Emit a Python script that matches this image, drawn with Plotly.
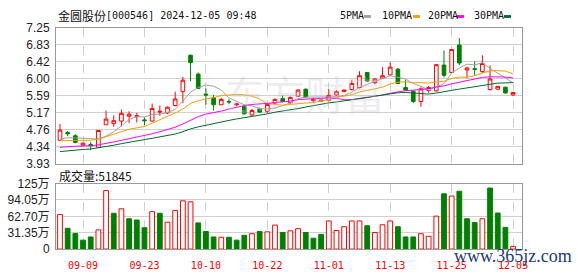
import plotly.graph_objects as go

# ---------------- data ----------------
dates = ["09-04", "09-05", "09-06", "09-09", "09-10", "09-11", "09-12", "09-13", "09-18", "09-19",
         "09-20", "09-23", "09-24", "09-25", "09-26", "09-27", "09-30", "10-08", "10-09", "10-10",
         "10-11", "10-14", "10-15", "10-16", "10-17", "10-18", "10-21", "10-22", "10-23", "10-24",
         "10-25", "10-28", "10-29", "10-30", "10-31", "11-01", "11-04", "11-05", "11-06", "11-07",
         "11-08", "11-11", "11-12", "11-13", "11-14", "11-15", "11-18", "11-19", "11-20", "11-21",
         "11-22", "11-25", "11-26", "11-27", "11-28", "11-29", "12-02", "12-03", "12-04", "12-05"]

opens = [4.50, 4.69, 4.61, 4.38, 4.40, 4.33, 4.88, 4.91, 4.97, 5.09,
         5.08, 5.00, 4.97, 5.19, 5.17, 5.35, 5.69, 6.58, 6.12, 5.63,
         5.54, 5.37, 5.45, 5.37, 5.33, 5.12, 5.27, 5.21, 5.41, 5.52,
         5.42, 5.58, 5.75, 5.47, 5.46, 5.48, 5.61, 5.69, 5.74, 5.79,
         6.16, 5.91, 6.02, 6.10, 6.24, 5.79, 5.70, 5.45, 5.72, 5.71,
         6.34, 6.16, 6.83, 6.22, 6.25, 6.18, 5.74, 5.75, 5.80, 5.61]
highs = [4.90, 4.73, 4.65, 4.45, 4.46, 4.75, 5.23, 5.11, 5.25, 5.21,
         5.17, 5.06, 5.40, 5.35, 5.33, 5.69, 6.05, 6.60, 6.16, 5.77,
         5.61, 5.54, 5.51, 5.42, 5.36, 5.27, 5.30, 5.40, 5.53, 5.60,
         5.57, 5.75, 5.77, 5.54, 5.53, 5.75, 5.73, 5.74, 5.98, 6.19,
         6.17, 6.02, 6.29, 6.41, 6.27, 5.98, 5.72, 5.80, 5.83, 6.36,
         6.70, 6.73, 7.00, 6.30, 6.43, 6.58, 6.33, 5.83, 5.81, 5.67]
lows = [4.50, 4.60, 4.43, 4.37, 4.26, 4.32, 4.88, 4.83, 4.84, 4.92,
        4.94, 4.87, 4.96, 5.10, 5.14, 5.33, 5.41, 5.95, 5.75, 5.37,
        5.23, 5.36, 5.38, 5.34, 5.13, 5.10, 5.17, 5.17, 5.38, 5.43,
        5.40, 5.56, 5.54, 5.41, 5.44, 5.45, 5.58, 5.68, 5.72, 5.77,
        5.93, 5.87, 6.00, 6.08, 5.88, 5.71, 5.41, 5.32, 5.66, 5.69,
        6.04, 6.14, 6.34, 6.02, 6.08, 6.15, 5.72, 5.73, 5.64, 5.58]
closes = [4.75, 4.66, 4.45, 4.43, 4.37, 4.74, 5.02, 4.98, 5.16, 5.14,
          5.10, 4.98, 5.28, 5.21, 5.31, 5.51, 5.97, 6.40, 5.77, 5.61,
          5.37, 5.50, 5.44, 5.39, 5.15, 5.23, 5.19, 5.38, 5.50, 5.45,
          5.55, 5.73, 5.56, 5.50, 5.48, 5.60, 5.69, 5.73, 5.89, 6.08,
          5.95, 6.00, 6.08, 6.29, 5.89, 5.73, 5.45, 5.76, 5.79, 6.35,
          6.09, 6.72, 6.39, 6.27, 6.24, 6.38, 6.00, 5.82, 5.66, 5.67]
volumes = [66.1, 39.7, 29.9, 17.1, 23.2, 36.7, 112.0, 68.5, 77.1, 58.0,
           55.6, 40.9, 71.6, 68.5, 51.4, 74.0, 92.4, 90.5, 50.1, 33.6,
           23.2, 22.6, 22.6, 17.1, 26.3, 29.4, 33.6, 33.0, 45.9, 31.8,
           34.9, 39.1, 31.8, 20.8, 28.1, 53.8, 35.4, 42.8, 53.8, 53.8,
           44.6, 31.8, 46.5, 53.8, 42.8, 23.2, 23.2, 29.4, 24.4, 63.0,
           105.8, 101.5, 110.7, 58.0, 50.7, 58.0, 116.8, 69.0, 41.5, 5.18]  # 万

# moving-average values at the start of the window (history before the visible range)
ma5_head = [4.54, 4.56, 4.56, 4.55]
ma10_head = [4.49, 4.50, 4.50, 4.50, 4.50, 4.53, 4.59, 4.64, 4.70]
ma20_head = [4.33, 4.35, 4.355, 4.36, 4.365, 4.39, 4.42, 4.46, 4.50, 4.54,
             4.58, 4.61, 4.66, 4.71, 4.76, 4.82, 4.90, 5.00, 5.08]
ma30_head = [4.225, 4.247, 4.262, 4.276, 4.288, 4.313, 4.347, 4.380, 4.419, 4.457,
             4.494, 4.517, 4.550, 4.580, 4.614, 4.654, 4.710, 4.780, 4.829, 4.873,
             4.909, 4.949, 4.987, 5.023, 5.051, 5.082, 5.112, 5.148, 5.188]

price_ticks = [3.93, 4.345, 4.76, 5.175, 5.59, 6.005, 6.42, 6.835, 7.25]
price_tick_text = ["3.93", "4.34", "4.76", "5.17", "5.59", "6.00", "6.42", "6.83", "7.25"]
vol_ticks = [0, 31.35, 62.70, 94.05, 125.4]
vol_tick_text = ["0", "31.35万", "62.70万", "94.05万", "125万"]
label_dates = ["09-09", "09-23", "10-10", "10-22", "11-01", "11-13", "11-25", "12-05"]

title_name = "金圆股份"
title_code = "[000546] 2024-12-05 09:48"
vol_title = "成交量:51845"
ma_names = ["5PMA", "10PMA", "20PMA", "30PMA"]


# ---------------- derived ----------------
def moving_avg(head, n):
    out = list(head)
    for i in range(len(head), len(closes)):
        out.append(sum(closes[i - n + 1:i + 1]) / n)
    return out


ma5 = moving_avg(ma5_head, 5)
ma10 = moving_avg(ma10_head, 10)
ma20 = moving_avg(ma20_head, 20)
ma30 = moving_avg(ma30_head, 30)

idx = list(range(len(dates)))
up_vol = [closes[i] >= (closes[i - 1] if i > 0 else opens[i]) for i in idx]

RED = "#ff0000"
GREEN = "#008000"
MA_COLORS = ["#a0a0a0", "#f0a000", "#ff00ff", "#006a2a"]

W, H = 578, 276
L, R = 56, 522


def px_x(p):
    return (p - L) / (R - L)


def px_y(p):
    return (H - p) / H


fig = go.Figure()

fig.add_trace(go.Candlestick(
    x=idx, open=opens, high=highs, low=lows, close=closes,
    increasing=dict(line=dict(color=RED, width=1), fillcolor="white"),
    decreasing=dict(line=dict(color=GREEN, width=1), fillcolor=GREEN),
    whiskerwidth=0, xaxis="x2", yaxis="y2", hoverinfo="skip"))

for vals, col in zip([ma5, ma10, ma20, ma30], MA_COLORS):
    fig.add_trace(go.Scatter(x=idx, y=vals, mode="lines", line=dict(color=col, width=1),
                             xaxis="x2", yaxis="y2", hoverinfo="skip"))

fig.add_trace(go.Bar(
    x=idx, y=volumes, width=0.62,
    marker=dict(color=["white" if u else GREEN for u in up_vol],
                line=dict(color=[RED if u else GREEN for u in up_vol], width=1)),
    xaxis="x", yaxis="y", hoverinfo="skip"))

tickvals_x = [i for i, d in enumerate(dates) if d in label_dates]
ticktext_x = [dates[i] for i in tickvals_x]

common_x = dict(range=[-0.52, 60.16], tickvals=tickvals_x, showgrid=True,
                gridcolor="#cfcfcf", griddash="dash", gridwidth=1, zeroline=False,
                showline=True, mirror=True, linecolor="#999999", linewidth=1,
                rangeslider=dict(visible=False), fixedrange=True)

fig.update_layout(
    width=W, height=H, margin=dict(l=L, r=W - R, t=0, b=0),
    paper_bgcolor="white", plot_bgcolor="white", showlegend=False, boxgap=0.32,
    xaxis=dict(domain=[0, 1], anchor="y", ticktext=ticktext_x, ticks="outside",
               ticklen=7, tickcolor="rgba(0,0,0,0)",
               tickfont=dict(family="DejaVu Sans Mono", size=10, color=RED), **common_x),
    xaxis2=dict(domain=[0, 1], anchor="y2", showticklabels=False, **common_x),
    yaxis=dict(domain=[px_y(255), px_y(186)], range=[0, 125.4], tickvals=vol_ticks,
               ticktext=vol_tick_text, showgrid=True, gridcolor="#cfcfcf", zeroline=False,
               showline=True, mirror=True, linecolor="#999999", ticks="outside", ticklen=3,
               tickcolor="rgba(0,0,0,0)",
               tickfont=dict(family="Liberation Sans, Noto Sans CJK SC", size=12, color="#222222"),
               fixedrange=True),
    yaxis2=dict(domain=[px_y(165), px_y(22)], range=[3.93, 7.25], tickvals=price_ticks,
                ticktext=price_tick_text, showgrid=True, gridcolor="#cfcfcf", zeroline=False,
                showline=True, mirror=True, linecolor="#999999", ticks="outside", ticklen=3,
                tickcolor="rgba(0,0,0,0)",
                tickfont=dict(family="Liberation Sans", size=12, color="#222222"),
                fixedrange=True),
)

ann = []
# watermark
ann.append(dict(x=px_x(305), y=px_y(91), xref="paper", yref="paper", text="东方财富",
                xanchor="center", yanchor="middle", showarrow=False,
                font=dict(family="Noto Sans CJK SC", size=40, color="rgba(200,200,212,0.32)")))
# title
ann.append(dict(x=px_x(56), y=px_y(9), xref="paper", yref="paper", text=title_name,
                xanchor="left", yanchor="middle", showarrow=False,
                font=dict(family="Noto Sans CJK SC", size=12, color="#111111")))
ann.append(dict(x=px_x(104), y=px_y(9), xref="paper", yref="paper", text=title_code,
                xanchor="left", yanchor="middle", showarrow=False,
                font=dict(family="DejaVu Sans Mono", size=10, color="#111111")))
# volume title
ann.append(dict(x=px_x(57), y=px_y(177), xref="paper", yref="paper", text=vol_title,
                xanchor="left", yanchor="middle", showarrow=False,
                font=dict(family="Noto Sans CJK SC", size=12, color="#111111")))
# legend
leg_text_x = [338, 380, 426, 472]
leg_sw_x = [364, 413, 457, 504]
shapes = []
for name, tx, sx, col in zip(ma_names, leg_text_x, leg_sw_x, MA_COLORS):
    ann.append(dict(x=px_x(tx), y=px_y(9), xref="paper", yref="paper", text=name,
                    xanchor="left", yanchor="middle", showarrow=False,
                    font=dict(family="DejaVu Sans Mono", size=10, color="#111111")))
    shapes.append(dict(type="rect", xref="paper", yref="paper", x0=px_x(sx), x1=px_x(sx + 7),
                       y0=px_y(11.5), y1=px_y(8.5), fillcolor=col, line=dict(width=0)))
# site watermark
ann.append(dict(x=px_x(574), y=px_y(262), xref="paper", yref="paper", text="www.365jz.com",
                xanchor="right", yanchor="middle", showarrow=False,
                font=dict(family="Liberation Serif", size=18, color="#1d3b78")))

fig.update_layout(annotations=ann, shapes=shapes)

fig.write_html("out.html")
